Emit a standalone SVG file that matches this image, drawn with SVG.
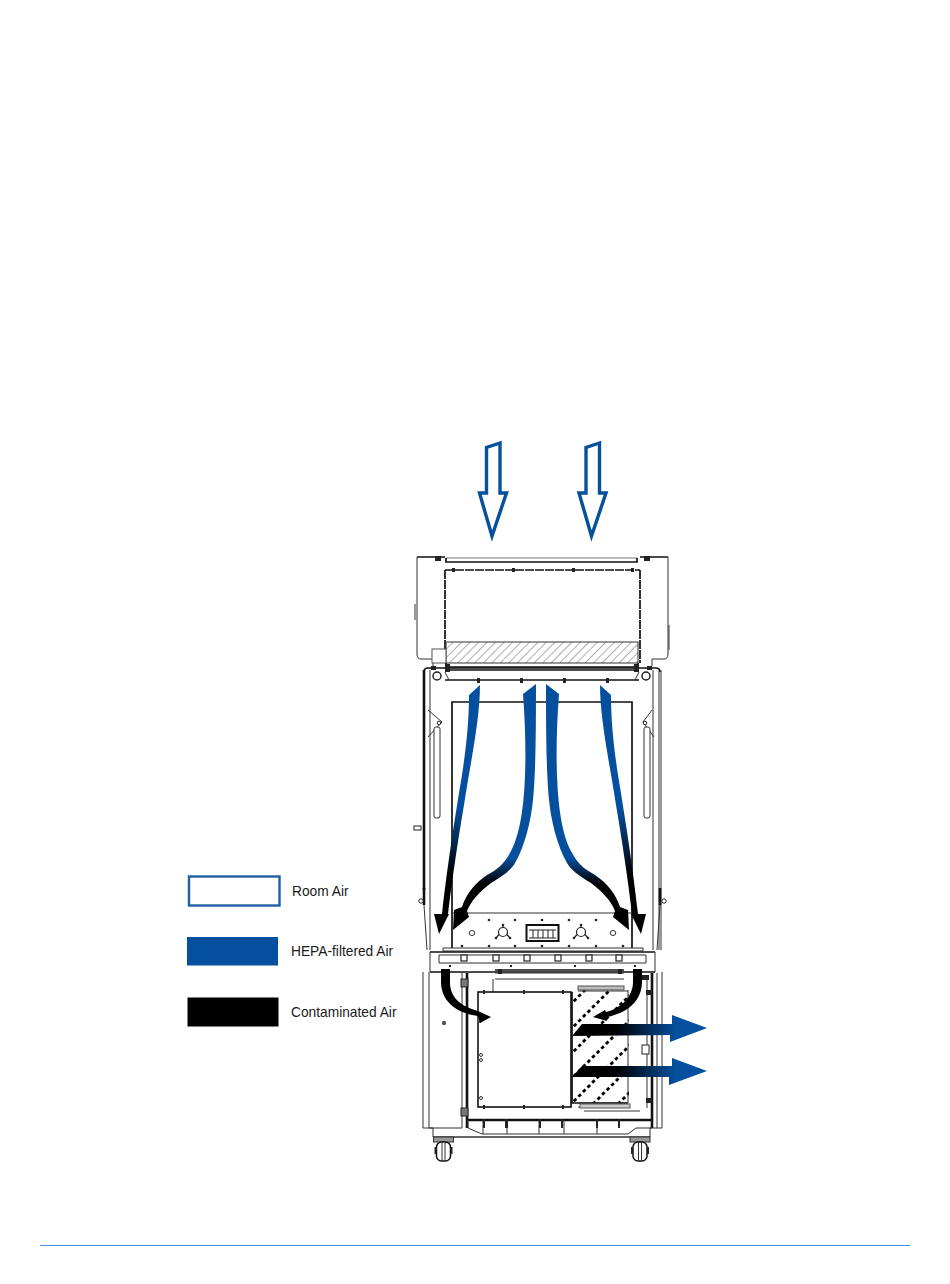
<svg xmlns="http://www.w3.org/2000/svg" xmlns:xlink="http://www.w3.org/1999/xlink" width="950" height="1284" viewBox="0 0 950 1284">
<style>
.t{font-family:"Liberation Sans",Arial,sans-serif;font-size:13.75px;fill:#1a1a1a}
.l{fill:none;stroke:#333;stroke-width:1}
.g{fill:none;stroke:#777;stroke-width:1}
.h{fill:none;stroke:#111;stroke-width:1.7}
.k{fill:none;stroke:#111;stroke-width:2.6}
.d{fill:#222}
.room{fill:#fff;stroke:#06509c;stroke-width:3.4;stroke-linejoin:miter}
.sq{fill:#fff;stroke:#222;stroke-width:1.2}
</style>
<defs>
<pattern id="hatch" width="6" height="6" patternUnits="userSpaceOnUse" patternTransform="rotate(45)">
<rect width="6" height="6" fill="#fff"/><line x1="0" y1="0" x2="0" y2="6" stroke="#777" stroke-width="1.2"/>
</pattern>
<linearGradient id="gv1" gradientUnits="userSpaceOnUse" x1="0" y1="808" x2="0" y2="875">
<stop offset="0" stop-color="#04509e"/><stop offset="1" stop-color="#000"/>
</linearGradient>
<linearGradient id="gv2" gradientUnits="userSpaceOnUse" x1="0" y1="858" x2="0" y2="884">
<stop offset="0" stop-color="#04509e"/><stop offset="1" stop-color="#000"/>
</linearGradient>
<linearGradient id="gh" gradientUnits="userSpaceOnUse" x1="616" y1="0" x2="676" y2="0">
<stop offset="0" stop-color="#000"/><stop offset="1" stop-color="#04509e"/>
</linearGradient>
<clipPath id="boxclip"><rect x="573" y="990" width="56" height="113"/></clipPath>
<g id="caster">
<rect x="-10" y="-13" width="20" height="5" fill="#999" stroke="#333"/>
<rect x="-7" y="-8" width="14" height="19" rx="5" fill="#fff" stroke="#111" stroke-width="1.5"/>
<line x1="-1.5" y1="-8" x2="-1.5" y2="11" stroke="#333"/>
<line x1="1.5" y1="-8" x2="1.5" y2="11" stroke="#333"/>
<rect x="-9" y="-3" width="2" height="7" fill="#222"/>
<rect x="7" y="-3" width="2" height="7" fill="#222"/>
</g>
<g id="knob">
<circle cx="0" cy="0" r="4.5" fill="none" stroke="#222" stroke-width="1.2"/>
<path d="M0 -4.5V-7M-4 2.5L-7 6M4 2.5L7 6" stroke="#222" stroke-width="1.2"/>
<circle cx="0" cy="-7" r="1.3" fill="#222"/><circle cx="-7" cy="6" r="1.3" fill="#222"/><circle cx="7" cy="6" r="1.3" fill="#222"/>
</g>
<g id="roomArrow">
<path class="room" d="M500 443L486.500 447.500V493H479.500L492 536L506.500 493H500Z"/>
</g>
<path id="blueOuter" d="M480 685L469 695C469 720 466.500 745 462 775C457 805 448 860 442 914H434L439 934L449 914H448C452 880 458 840 464 805C470 765 480 720 480 685Z"/>
<path id="blueInner" d="M536 684L523 694C525 720 526 750 525 775C524 805 520 835 511 851C504 865 496 870 487 875C475 883 466 894 462 907L454 910L453 930L469 917L467 911C471 901 479 892 491 883C504 875 511 870 515 863C525 846 531 820 533 800C536 770 536 720 536 684Z"/>
</defs>

<rect width="950" height="1284" fill="#fff"/>

<g id="hood">
<path class="h" d="M417 557H445M640 557H668" stroke-width="1"/>
<path class="l" d="M417 557V654Q417 659 421 659H433V666M668 557V654Q668 659 664 659H652V666"/>
<path class="g" d="M446 558H637"/>
<path class="h" d="M446 558V562H637V558"/>
<path class="d" d="M435 556h6v5h-6zM644 556h6v5h-6z"/>
<path class="h" d="M445 570H640M445 570V663M640 570V663" stroke-dasharray="9 1"/>
<path class="d" d="M452 568h3v4h-3zM512 568h3v4h-3zM572 568h3v4h-3zM631 568h3v4h-3z"/>
<rect x="446" y="642" width="192" height="21" fill="url(#hatch)" stroke="#333"/>
<rect x="432" y="649" width="14" height="14" fill="#fff" stroke="#555"/>
<path class="l" d="M415 604V620M669 625V650"/>
<path class="h" d="M446 663V667M638 663V667M446 667H638"/>
</g>

<g id="cabinet-upper">
<path class="h" d="M424 672Q424 668 428 668H656Q660 668 660 672"/>
<path class="h" d="M446 670H636" stroke-width="1"/>
<path class="h" d="M445 680H639"/>
<path class="l" d="M445 672L449 680M639 672L635 680"/>
<path class="k" d="M424 670V890"/>
<path class="l" d="M430 670V950M653 670V950M659 670V950M661 670V950"/>
<circle cx="437" cy="676" r="4" fill="none" stroke="#222" stroke-width="1.500"/>
<circle cx="646" cy="676" r="4" fill="none" stroke="#222" stroke-width="1.500"/>
<path class="d" d="M431 666h5v4h-5zM445 664h5v8h-5zM634 664h5v8h-5zM647 666h5v4h-5z"/>
<path class="d" d="M477 678h3v5h-3zM520 678h3v5h-3zM563 678h3v5h-3zM606 678h3v5h-3z"/>
<path class="h" d="M452 948V702H632V948" stroke-width="1.2" stroke="#444"/>
<path class="l" d="M452 913H632"/>
<path class="l" d="M428 710L442 722L428 737M652 710L643 722L654 737" stroke="#555"/>
<rect x="434" y="727" width="6" height="91" rx="2" fill="#fff" stroke="#333"/>
<rect x="644" y="727" width="6" height="91" rx="2" fill="#fff" stroke="#333"/>
<circle cx="439" cy="723" r="1.800" fill="#fff" stroke="#222"/>
<circle cx="645" cy="723" r="1.800" fill="#fff" stroke="#222"/>
<rect x="414" y="826" width="7" height="4" fill="#fff" stroke="#222"/>
<path class="k" d="M424 888V905M660 888V905" stroke-width="3"/>
<circle cx="421" cy="901" r="2.200" fill="#fff" stroke="#222"/>
<circle cx="664" cy="901" r="2.200" fill="#fff" stroke="#222"/>
<path class="l" d="M424 905L427 950M660 905L657 950" stroke="#666"/>
</g>

<g id="control-panel">
<g class="d">
<circle cx="489" cy="920" r="1.300"/><circle cx="515" cy="920" r="1.300"/><circle cx="542" cy="920" r="1.300"/><circle cx="569" cy="920" r="1.300"/><circle cx="596" cy="920" r="1.300"/>
<circle cx="462" cy="946" r="1.300"/><circle cx="489" cy="946" r="1.300"/><circle cx="515" cy="946" r="1.300"/><circle cx="542" cy="946" r="1.300"/><circle cx="569" cy="946" r="1.300"/><circle cx="596" cy="946" r="1.300"/><circle cx="623" cy="946" r="1.300"/>
</g>
<use xlink:href="#knob" href="#knob" x="503" y="932"/>
<use xlink:href="#knob" href="#knob" x="581" y="932"/>
<ellipse cx="472" cy="933" rx="2.800" ry="2.500" fill="none" stroke="#333"/>
<ellipse cx="613" cy="933" rx="2.800" ry="2.500" fill="none" stroke="#333"/>
<rect x="526.500" y="925" width="32" height="16" fill="#fff" stroke="#111" stroke-width="2"/>
<path d="M529 930H556M529 938H556M533 930V938M538 930V938M543 930V938M548 930V938M553 930V938" stroke="#222" fill="none"/>
</g>

<g id="cabinet-band">
<path class="l" d="M443 948V951H643V948M443 948H643"/>
<path class="h" d="M430 952H655M430 972H655" stroke-width="1.300"/>
<path class="l" d="M430 952V972M655 952V972M439 955H646M439 955V963M646 955V963M439 963H646"/>
<rect x="461" y="955" width="6" height="6" class="sq"/>
<rect x="493" y="955" width="6" height="6" class="sq"/>
<rect x="524" y="955" width="6" height="6" class="sq"/>
<rect x="555" y="955" width="6" height="6" class="sq"/>
<rect x="586" y="955" width="6" height="6" class="sq"/>
<rect x="616" y="955" width="6" height="6" class="sq"/>
<path class="d" d="M449 965h2v2h-2zM510 965h2v2h-2zM574 965h2v2h-2zM634 965h2v2h-2z"/>
</g>

<g id="cabinet-lower">
<path class="l" d="M423 972V1128H433M662 972V1128H650"/>
<path class="l" d="M429 972V1128H462"/>
<circle cx="444" cy="1023" r="2.200" fill="#555"/>
<path class="k" d="M467 973V1128" stroke-width="1.800"/>
<path class="l" d="M462 973V1128"/>
<path class="h" d="M495 970H624"/>
<path class="l" d="M495 973H624M495 979H624M493 979V992"/>
<path class="k" d="M652 973V1128" stroke-width="1.500"/>
<path class="l" d="M647 978V1108M657 973V1128"/>
<rect x="461" y="979" width="7" height="8" fill="#777" stroke="#222"/>
<rect x="461" y="1108" width="7" height="8" fill="#777" stroke="#222"/>
<rect x="642" y="1045" width="7" height="9" fill="#fff" stroke="#222"/>
<path class="d" d="M641 975h8v5h-8zM646 990h6v5h-6zM646 1098h6v5h-6zM498 969h4v5h-4zM618 969h4v5h-4z"/>
<g clip-path="url(#boxclip)">
<g stroke="#000" stroke-width="2.800" stroke-dasharray="3.500 3" fill="none">
<line x1="560" y1="1015" x2="640" y2="935"/>
<line x1="560" y1="1040" x2="640" y2="960"/>
<line x1="560" y1="1065" x2="640" y2="985"/>
<line x1="560" y1="1090" x2="640" y2="1010"/>
<line x1="560" y1="1115" x2="640" y2="1035"/>
<line x1="570" y1="1127" x2="650" y2="1047"/>
<line x1="595" y1="1127" x2="675" y2="1047"/>
</g>
</g>
<path class="h" d="M572 992V1103H628"/>
<path class="l" d="M628 990V1103" stroke="#555"/>
<path class="l" d="M578 988H622M578 991H628M578 1103H628M578 1107H630M584 1111H640" stroke="#444"/>
<rect x="578" y="986" width="46" height="4" fill="#bbb" stroke="#555"/>
<rect x="580" y="1104" width="50" height="4" fill="#ccc" stroke="#555"/>
</g>

<g id="filter-box">
<rect x="478" y="992" width="93" height="115" fill="#fff" stroke="#111" stroke-width="1.600"/>
<path class="d" d="M483 990h2v4h-2zM523 990h2v4h-2zM562 990h2v4h-2zM483 1105h2v4h-2zM523 1105h2v4h-2zM562 1105h2v4h-2z"/>
<circle cx="481" cy="1055" r="1.500" fill="none" stroke="#333"/>
<circle cx="481" cy="1060" r="1.500" fill="none" stroke="#333"/>
<circle cx="481" cy="1098" r="1.500" fill="none" stroke="#333"/>
<rect x="477" y="1017" width="4" height="6" fill="#555"/>
</g>

<g id="cabinet-base">
<path class="k" d="M468 1120H652" stroke-width="2"/>
<path class="l" d="M468 1120V1128L482 1134H628L636 1128H652"/>
<path class="l" d="M433 1128V1137H650V1128M433 1137H650"/>
<path class="l" d="M483 1120V1134M507 1120V1134M539 1120V1134M564 1120V1134M597 1120V1134"/>
<path class="d" d="M483 1119h2v9h-2zM505 1119h3v9h-3zM539 1119h2v9h-2zM561 1119h2v9h-2zM596 1119h2v9h-2zM618 1119h2v9h-2z"/>
<use xlink:href="#caster" href="#caster" x="443.500" y="1150"/>
<use xlink:href="#caster" href="#caster" x="640" y="1150"/>
</g>

<g id="connectors">
<use xlink:href="#roomArrow" href="#roomArrow"/>
<use xlink:href="#roomArrow" href="#roomArrow" x="99.500"/>
<use xlink:href="#blueOuter" href="#blueOuter" fill="url(#gv1)"/>
<use xlink:href="#blueOuter" href="#blueOuter" fill="url(#gv1)" transform="matrix(-1 0 0 1 1080 0)"/>
<use xlink:href="#blueInner" href="#blueInner" fill="url(#gv2)"/>
<use xlink:href="#blueInner" href="#blueInner" fill="url(#gv2)" transform="matrix(-1 0 0 1 1082 0)"/>
<path fill="#000" d="M441 969H450V982C450 994 456 1005 478 1011L491 1017L480 1023L478 1016C455 1013 441 1000 441 982Z"/>
<path fill="#000" d="M633 969H642V982C642 1000 628 1013 607 1017L607 1021L593 1017L605 1010L606 1012C622 1008 633 996 633 982Z"/>
<path fill="url(#gh)" d="M572 1036L582 1024H672V1015L707 1028L670 1042V1035Z"/>
<path fill="url(#gh)" d="M572 1077L582 1066H672V1058L707 1071L669 1085V1077Z"/>
</g>

<g id="legend-room">
<rect x="189" y="876.500" width="90.500" height="29" fill="#fff" stroke="#1f5fa5" stroke-width="2.400"/>
<text class="t" x="292" y="895.500">Room Air</text>
</g>
<g id="legend-hepa">
<rect x="187" y="937" width="91" height="28.500" fill="#04509e"/>
<text class="t" x="291" y="956">HEPA-filtered Air</text>
</g>
<g id="legend-contaminated">
<rect x="187.500" y="997.500" width="91" height="29" fill="#000"/>
<text class="t" x="291" y="1017">Contaminated Air</text>
</g>

<rect id="footer-rule" x="40" y="1245" width="870" height="1" fill="#4a8fe0"/>
</svg>
